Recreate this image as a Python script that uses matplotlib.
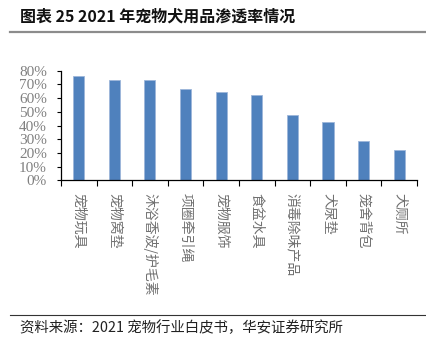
import matplotlib
matplotlib.use("Agg")
import matplotlib.pyplot as plt
import numpy as np
from matplotlib.lines import Line2D
from matplotlib.ticker import FuncFormatter, MultipleLocator

CJK = ["Noto Sans CJK SC", "DejaVu Sans"]

title = "图表 25 2021 年宠物犬用品渗透率情况"
source = "资料来源：2021 宠物行业白皮书，华安证券研究所"
categories = ["宠物玩具", "宠物窝垫", "沐浴香波/护毛素", "项圈牵引绳", "宠物服饰",
              "食盆水具", "消毒除味产品", "犬尿垫", "笼舍背包", "犬厕所"]
penetration = [0.759, 0.732, 0.730, 0.664, 0.647, 0.623, 0.479, 0.426, 0.288, 0.220]

fig = plt.figure(figsize=(4.26, 3.43), dpi=100)
ax = fig.add_axes([0.143, 0.474, 0.836, 0.320])

x = np.arange(len(categories))
ax.bar(x, penetration, width=0.31, color="#4F81BD", edgecolor="#9DB6DA", linewidth=0.6)

ax.set_xlim(-0.5, len(categories) - 0.5)
ax.set_ylim(0, 0.8)
ax.yaxis.set_major_locator(MultipleLocator(0.1))
ax.yaxis.set_major_formatter(FuncFormatter(lambda v, _: f"{v * 100:.0f}%"))
for lbl in ax.get_yticklabels():
    lbl.set_family("Liberation Serif")
    lbl.set_fontsize(11)
    lbl.set_color("#808080")
ax.tick_params(axis="y", length=3, width=0.8, pad=7)

# category boundaries carry the tick marks, labels sit at bar centres
ax.set_xticks(np.arange(-0.5, len(categories)), minor=False)
ax.set_xticklabels([])
ax.set_xticks(x, minor=True)
ax.set_xticklabels(categories, minor=True, rotation=-90, fontsize=10,
                   family=CJK, color="#707070", va="top", ha="center")
ax.tick_params(axis="x", which="major", length=4, width=0.8)
ax.tick_params(axis="x", which="minor", length=0, pad=9)

for side in ("top", "right"):
    ax.spines[side].set_visible(False)
for side in ("left", "bottom"):
    ax.spines[side].set_linewidth(0.9)

fig.text(20 / 426, 1 - 17 / 343, title, family=CJK, fontsize=11.5,
         fontweight="bold", va="center", ha="left", color="#111111")
fig.add_artist(Line2D([10 / 426, 1], [1 - 32 / 343] * 2, color="#8C8C8C",
                      linewidth=1.6, transform=fig.transFigure))
fig.add_artist(Line2D([10 / 426, 1], [1 - 315 / 343] * 2, color="#333333",
                      linewidth=0.8, transform=fig.transFigure))
fig.text(20 / 426, 1 - 328 / 343, source, family=CJK, fontsize=10.4,
         va="center", ha="left", color="#222222")

fig.savefig("out.png", dpi=100)
